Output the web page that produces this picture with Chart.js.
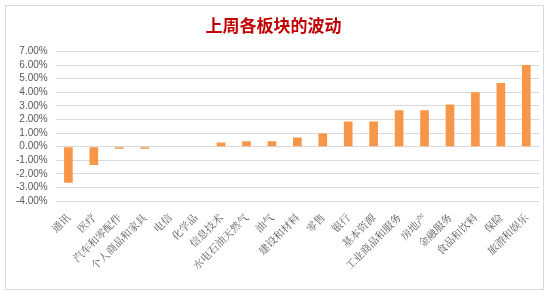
<!DOCTYPE html>
<html>
<head>
<meta charset="utf-8">
<script src="https://cdn.jsdelivr.net/npm/chart.js@4/dist/chart.umd.min.js"></script>
<style>
  body { margin: 0; background: #fff; }
  #box { width: 549px; height: 295px; }
</style>
</head>
<body>
<div id="box"><canvas id="sectors" width="549" height="295"></canvas></div>
<script>
// sectors, ordered as in the picture
var sectors = ['通讯', '医疗', '汽车和零配件', '个人商品和家具', '电信', '化学品', '信息技术',
  '水电石油天然气', '油气', '建设和材料', '零售', '银行', '基本资源', '工业商品和服务',
  '房地产', '金融服务', '食品和饮料', '保险', '旅游和娱乐'];
// weekly change, percent
var changes = [-2.65, -1.35, -0.15, -0.15, 0, 0, 0.3, 0.4, 0.4, 0.68, 0.97, 1.85, 1.85,
  2.68, 2.68, 3.1, 4.0, 4.68, 6.0];
var yMin = -4, yMax = 7, yStep = 1;

var frame = {
  id: 'frame',
  beforeDraw: function (chart) {
    var c = chart.ctx;
    c.save();
    c.fillStyle = '#fff';
    c.fillRect(0, 0, chart.width, chart.height);
    c.strokeStyle = '#d9d9d9';
    c.lineWidth = 1;
    c.strokeRect(5.5, 5.5, chart.width - 11, chart.height - 11);
    c.restore();
  }
};

new Chart(document.getElementById('sectors'), {
  type: 'bar',
  data: {
    labels: sectors,
    datasets: [{
      data: changes,
      backgroundColor: '#F79646',
      barPercentage: 0.34,
      categoryPercentage: 1
    }]
  },
  options: {
    responsive: false,
    animation: false,
    layout: { padding: { left: 8, right: 10, top: 2, bottom: 21 } },
    plugins: {
      legend: { display: false },
      tooltip: { enabled: false },
      title: {
        display: true,
        text: '上周各板块的波动',
        color: '#C00000',
        font: { family: 'Noto Sans CJK SC', size: 17, weight: 'bold' },
        padding: { top: 13, bottom: 16 }
      }
    },
    scales: {
      x: {
        grid: { display: false },
        border: { display: false },
        ticks: {
          minRotation: 45, maxRotation: 45, autoSkip: false,
          padding: 2,
          color: '#595959',
          font: { family: 'Noto Serif CJK SC, Noto Sans CJK SC', size: 10.5 }
        }
      },
      y: {
        min: yMin, max: yMax,
        grid: { color: '#d9d9d9', drawTicks: false },
        border: { display: false },
        ticks: {
          stepSize: yStep,
          autoSkip: false,
          padding: 8,
          color: '#595959',
          font: { family: 'Liberation Sans', size: 10 },
          callback: function (v) { return v.toFixed(2) + '%'; }
        }
      }
    }
  },
  plugins: [frame]
});
</script>
</body>
</html>
